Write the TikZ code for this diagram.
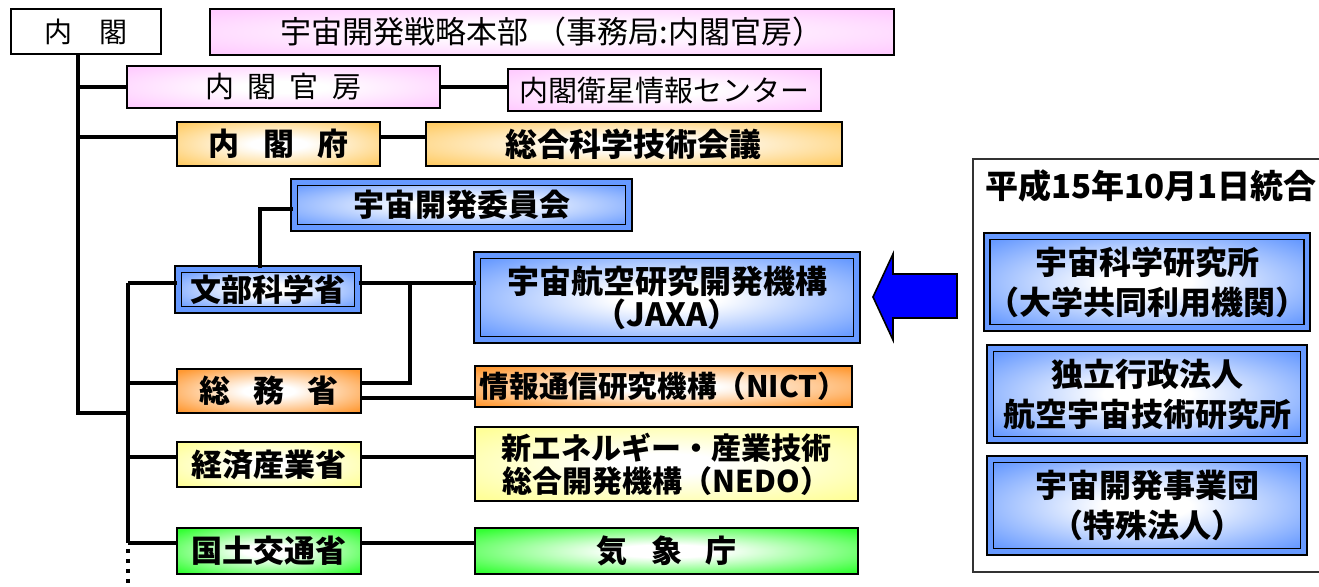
\documentclass[tikz,border=0pt]{standalone}
\usepackage{fontspec}
\setmainfont{Noto Sans CJK JP}
\usetikzlibrary{positioning}
\definecolor{pinkfill}{RGB}{255,204,255}
\definecolor{orangelt}{RGB}{255,204,102}
\definecolor{orangedk}{RGB}{255,153,51}
\definecolor{yellowfill}{RGB}{255,255,153}
\definecolor{greenfill}{RGB}{51,255,51}
\definecolor{bluefill}{RGB}{102,153,255}
\definecolor{arrowblue}{RGB}{0,0,255}
\colorlet{glowcol}{white}
\pgfdeclareradialshading[glowcol]{glow}{\pgfpoint{0bp}{0bp}}{%
    color(0bp)=(white); color(7bp)=(white); color(33bp)=(glowcol); color(50bp)=(glowcol)}
\tikzset{%
    boxsize/.style 2 args={minimum width=#1, minimum height=#2},
    dblsize/.style 2 args={minimum width=#1-4.2pt, minimum height=#2-4.2pt},
    glowfill/.style={/utils/exec={\colorlet{glowcol}{#1}}, shade, shading=glow},
    box/.style={draw=black, line width=1pt, inner sep=0pt, align=center, text=black},
    pinkbox/.style={box, glowfill=pinkfill,
        font=\fontsize{14.5}{17}\selectfont},
    orangebox/.style={box, glowfill=orangelt,
        font=\bfseries\fontsize{15.5}{18}\selectfont},
    somubox/.style={box, glowfill=orangedk,
        font=\bfseries\fontsize{15.5}{18}\selectfont},
    yellowbox/.style={box, glowfill=yellowfill,
        font=\bfseries\fontsize{15.5}{18}\selectfont},
    greenbox/.style={box, glowfill=greenfill,
        font=\bfseries\fontsize{15.5}{18}\selectfont},
    bluebox/.style={draw=black, line width=0.9pt, double=bluefill, double distance=2.4pt,
        glowfill=bluefill, inner sep=0pt, align=center,
        font=\bfseries\fontsize{16}{16.5}\selectfont},
    link/.style={draw=black, line width=2.2pt},
    panel/.style={draw=black!80, line width=0.8pt}
}

\begin{document}
\begin{tikzpicture}[x=0.5pt,y=-0.5pt]
\useasboundingbox (0,0) rectangle (1319,587);

% cabinet level
\node[box, boxsize={75pt}{22.5pt}, font=\fontsize{14}{16}\selectfont] (naikaku) at (86,31.5) {内　閣};
\node[pinkbox, boxsize={342pt}{23pt}, font=\fontsize{15.5}{18}\selectfont] (senryaku) at (552,32) {宇宙開発戦略本部 （事務局:内閣官房）};
\node[pinkbox, boxsize={156.5pt}{21pt}] (kanbo) at (283.5,87) {内\hspace{0.45em}閣\hspace{0.45em}官\hspace{0.45em}房};
\node[pinkbox, boxsize={156.5pt}{21pt}] (eisei) at (664.5,90) {内閣衛星情報センター};
\node[orangebox, boxsize={101.5pt}{22pt}] (naikakufu) at (278.5,144) {内\hspace{0.75em}閣\hspace{0.75em}府};
\node[orangebox, boxsize={208pt}{22pt}, font=\bfseries\fontsize{16}{18}\selectfont] (sogo) at (633.5,144) {総合科学技術会議};

% ministries
\node[bluebox, dblsize={171.5pt}{27pt}, font=\bfseries\fontsize{15.5}{18}\selectfont] (iinkai) at (461.5,205) {宇宙開発委員会};
\node[bluebox, dblsize={94pt}{24.5pt}, font=\bfseries\fontsize{15.5}{18}\selectfont] (monka) at (268,289.5) {文部科学省};
\node[bluebox, dblsize={194pt}{46.5pt}] (jaxa) at (667,297.5) {宇宙航空研究開発機構\\（JAXA）};
\node[somubox, boxsize={92pt}{22pt}] (somu) at (269,391) {総\hspace{0.75em}務\hspace{0.75em}省};
\node[somubox, boxsize={188.5pt}{20.5pt}, font=\bfseries\fontsize{14.8}{18}\selectfont] (nict) at (663.5,386.5) {情報通信研究機構（NICT）};
\node[yellowbox, boxsize={191.5pt}{37pt}, font=\bfseries\fontsize{15}{17}\selectfont] (nedo) at (666.5,464) {新エネルギー・産業技術\\[-0.5pt]総合開発機構（NEDO）};
\node[yellowbox, boxsize={92pt}{22.5pt}] (keisan) at (269,464.5) {経済産業省};
\node[greenbox, boxsize={92pt}{23pt}] (kokudo) at (269,551) {国土交通省};
\node[greenbox, boxsize={191.5pt}{23pt}] (kisho) at (666.5,551) {気\hspace{0.75em}象\hspace{0.75em}庁};

% merged bodies
\draw[panel] (1325,159) -| (973,572) -- (1325,572);
\node[font=\bfseries\fontsize{16.5}{18}\selectfont] (ptitle) at (1151,186) {平成15年10月1日統合};
\node[bluebox, dblsize={161pt}{50pt}, font=\bfseries\fontsize{16}{20}\selectfont] (isas) at (1147,282) {宇宙科学研究所\\（大学共同利用機関）};
\node[bluebox, dblsize={161pt}{50pt}, font=\bfseries\fontsize{16}{20}\selectfont] (nal) at (1147,394) {独立行政法人\\航空宇宙技術研究所};
\node[bluebox, dblsize={161pt}{50.5pt}, font=\bfseries\fontsize{16}{20}\selectfont] (nasda) at (1147,505.5) {宇宙開発事業団\\（特殊法人）};

\filldraw[fill=arrowblue, draw=black, line width=0.8pt, line join=miter]
    (873,297) -- (893,254) -- (893,274) -- (957,274) -- (957,318)
    -- (893,318) -- (893,340) -- cycle;

% connectors
\coordinate (trA) at (78,413);
\coordinate (trB) at (128,283);
\coordinate (trC) at (128,543);
\coordinate (trD) at (128,592);
\coordinate (jn) at (410,283);
\coordinate (fuL) at ([yshift=3.5pt]naikakufu.west);
\coordinate (smL) at ([yshift=4pt]somu.west);
\coordinate (smR) at ([yshift=-3.5pt]somu.east);
\coordinate (kzL) at ([yshift=3.75pt]keisan.west);
\coordinate (kkL) at ([yshift=4pt]kokudo.west);

\draw[link] (naikaku.south -| trA) -- (trA) -- (trA -| trB);
\draw[link] (trA |- kanbo) -- (kanbo.west);
\draw[link] (kanbo.east) -- (kanbo.east -| eisei.west);
\draw[link] (trA |- fuL) -- (fuL);
\draw[link] (fuL -| naikakufu.east) -- (fuL -| sogo.west);
\draw[link] (trB) -- (trB -| monka.west);
\draw[link] (trB) -- (trC);
\draw[link, dash pattern=on 2pt off 3pt] ([yshift=-3pt]trC) -- (trD);
\draw[link] ([xshift=-4pt]monka.north) |- ([yshift=-2pt]iinkai.west);
\draw[link] (monka.east |- trB) -- (trB -| jaxa.west);
\draw[link] (trB |- smL) -- (smL);
\draw[link] (smL -| somu.east) -| (jn);
\draw[link] (smR) -- (smR -| nict.west);
\draw[link] (trB |- kzL) -- (kzL);
\draw[link] (kzL -| keisan.east) -- (kzL -| nedo.west);
\draw[link] (trC) -- (kkL);
\draw[link] (kkL -| kokudo.east) -- (kkL -| kisho.west);
\end{tikzpicture}
\end{document}
